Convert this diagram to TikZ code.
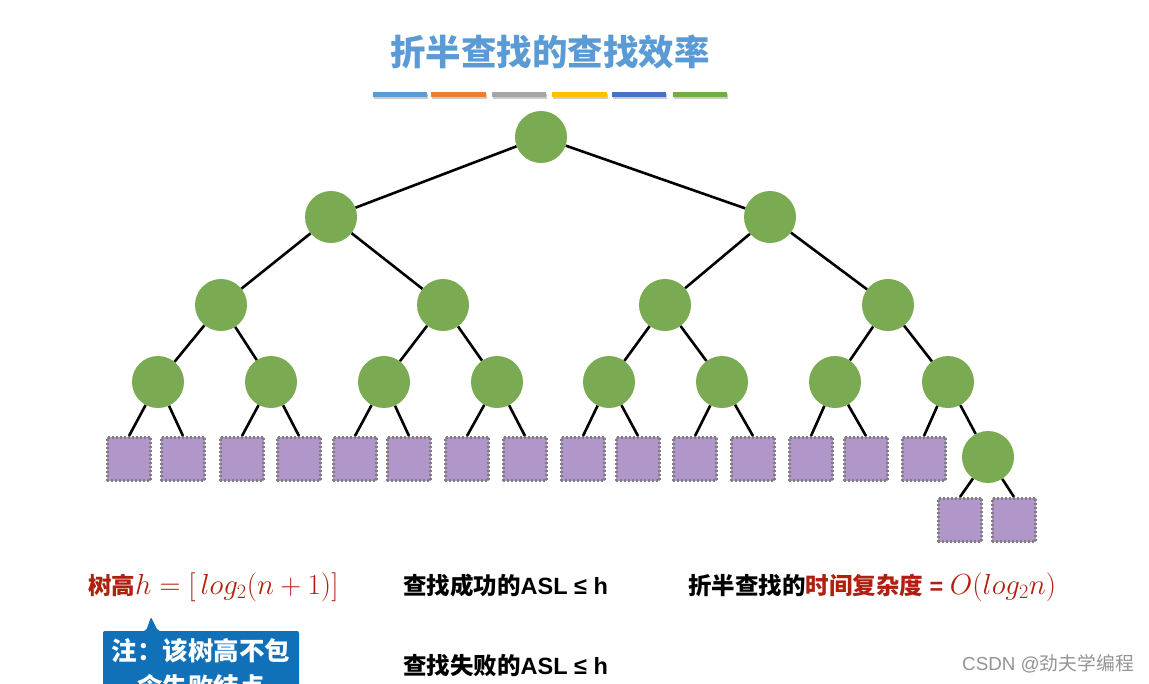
\RequirePackage{fix-cm}
\documentclass[tikz,border=0pt]{standalone}
\usepackage{fontspec}
\setmainfont{Liberation Sans}
\newfontfamily\cjk{Noto Sans CJK SC}
\definecolor{titleblue}{HTML}{5B9BD5}
\definecolor{treegreen}{RGB}{122,170,82}
\definecolor{leafpurple}{HTML}{B196C9}
\definecolor{leafgray}{HTML}{7F7F7F}
\definecolor{darkred}{RGB}{176,32,16}
\definecolor{calloutblue}{RGB}{16,112,184}
\definecolor{barA}{HTML}{5B9BD5}
\definecolor{barB}{HTML}{ED7D31}
\definecolor{barC}{HTML}{A5A5A5}
\definecolor{barD}{HTML}{FFC000}
\definecolor{barE}{HTML}{4472C4}
\definecolor{barF}{HTML}{70AD47}
\begin{document}
\begin{tikzpicture}[x=1pt,y=-1pt,
  inner/.style={circle,fill=treegreen,minimum size=52pt,inner sep=0pt},
  leaf/.style={rectangle,fill=leafpurple,draw=leafgray,line width=2.6pt,dash pattern=on 2.2pt off 1.8pt,minimum size=43.5pt,inner sep=0pt},
  edge/.style={line width=2.6pt,black},
  bar/.style={line width=5pt},
  body/.style={font=\fontsize{23.5}{28}\selectfont\bfseries,anchor=west,inner sep=0pt}]
\useasboundingbox[fill=white] (0,0) rectangle (1149,683);
% title
\node (title) at (550,52) {\fontsize{35.5}{40}\selectfont\cjk\bfseries\color{titleblue}折半查找的查找效率};
% bars with shadow
\foreach \a/\b/\c in {373/427/barA,431/486/barB,492/546/barC,552/607/barD,612/666/barE,673/727/barF}{
  \draw[bar,black!20] (\a+1,96) -- (\b+1,96);
  \draw[bar,\c] (\a,94) -- (\b,94);
}
% tree nodes
\node[inner] (r) at (541,137) {};
\node[inner] (a1) at (331,217) {};
\node[inner] (a2) at (770,217) {};
\node[inner] (b1) at (221,305) {};
\node[inner] (b2) at (443,305) {};
\node[inner] (b3) at (665,305) {};
\node[inner] (b4) at (888,305) {};
\foreach \i/\x in {1/158,2/271,3/384,4/497,5/609,6/722,7/835,8/948}
  \node[inner] (c\i) at (\x,382) {};
\node[inner] (d) at (988,457) {};
\foreach \i/\x in {1/129,2/183,3/242,4/299,5/355,6/409,7/467,8/525,9/583,10/638,11/695,12/753,13/811,14/866,15/924}
  \node[leaf] (l\i) at (\x,459) {};
\node[leaf] (m1) at (960,520) {};
\node[leaf] (m2) at (1014,520) {};
% edges
\begin{scope}[on background layer/.try]
\draw[edge] (r) -- (a1);
\draw[edge] (r) -- (a2);
\draw[edge] (a1) -- (b1);
\draw[edge] (a1) -- (b2);
\draw[edge] (a2) -- (b3);
\draw[edge] (a2) -- (b4);
\draw[edge] (b1) -- (c1);
\draw[edge] (b1) -- (c2);
\draw[edge] (b2) -- (c3);
\draw[edge] (b2) -- (c4);
\draw[edge] (b3) -- (c5);
\draw[edge] (b3) -- (c6);
\draw[edge] (b4) -- (c7);
\draw[edge] (b4) -- (c8);
\draw[edge] (c1) -- (l1.north);
\draw[edge] (c1) -- (l2.north);
\draw[edge] (c2) -- (l3.north);
\draw[edge] (c2) -- (l4.north);
\draw[edge] (c3) -- (l5.north);
\draw[edge] (c3) -- (l6.north);
\draw[edge] (c4) -- (l7.north);
\draw[edge] (c4) -- (l8.north);
\draw[edge] (c5) -- (l9.north);
\draw[edge] (c5) -- (l10.north);
\draw[edge] (c6) -- (l11.north);
\draw[edge] (c6) -- (l12.north);
\draw[edge] (c7) -- (l13.north);
\draw[edge] (c7) -- (l14.north);
\draw[edge] (c8) -- (l15.north);
\draw[edge] (c8) -- (d);
\draw[edge] (d) -- (m1.north);
\draw[edge] (d) -- (m2.north);
\end{scope}
% texts
\node[body,text=darkred] (height) at (88,587) {{\cjk 树高}{\fontsize{29}{32}\selectfont$h=\bigl[\,log_2(n+1)\bigr]$}};
\node[body] (succ) at (403,586) {{\cjk 查找成功的}ASL ≤ h};
\node[body] (fail) at (403,666) {{\cjk 查找失败的}ASL ≤ h};
\node[body] (cplx) at (688,587) {{\cjk 折半查找的}\color{darkred}{\cjk 时间复杂度} = {\fontsize{29}{32}\selectfont$O(log_2n)$}};
% callout
\fill[calloutblue,rounded corners=2pt] (103,700) -- (103,631) -- (146,631) -- (151,617) -- (158,631) -- (299,631) -- (299,700) -- cycle;
\node[font=\fontsize{25.5}{36}\selectfont\cjk\bfseries,text=white,align=center,anchor=north] (note) at (201,635) {注：该树高不包\\含失败结点};
% credit
\node[font=\fontsize{18.8}{22}\selectfont,text=black!42,anchor=east,inner sep=0pt] (csdn) at (1134,664) {CSDN @{\cjk 劲夫学编程}};
\end{tikzpicture}
\end{document}
